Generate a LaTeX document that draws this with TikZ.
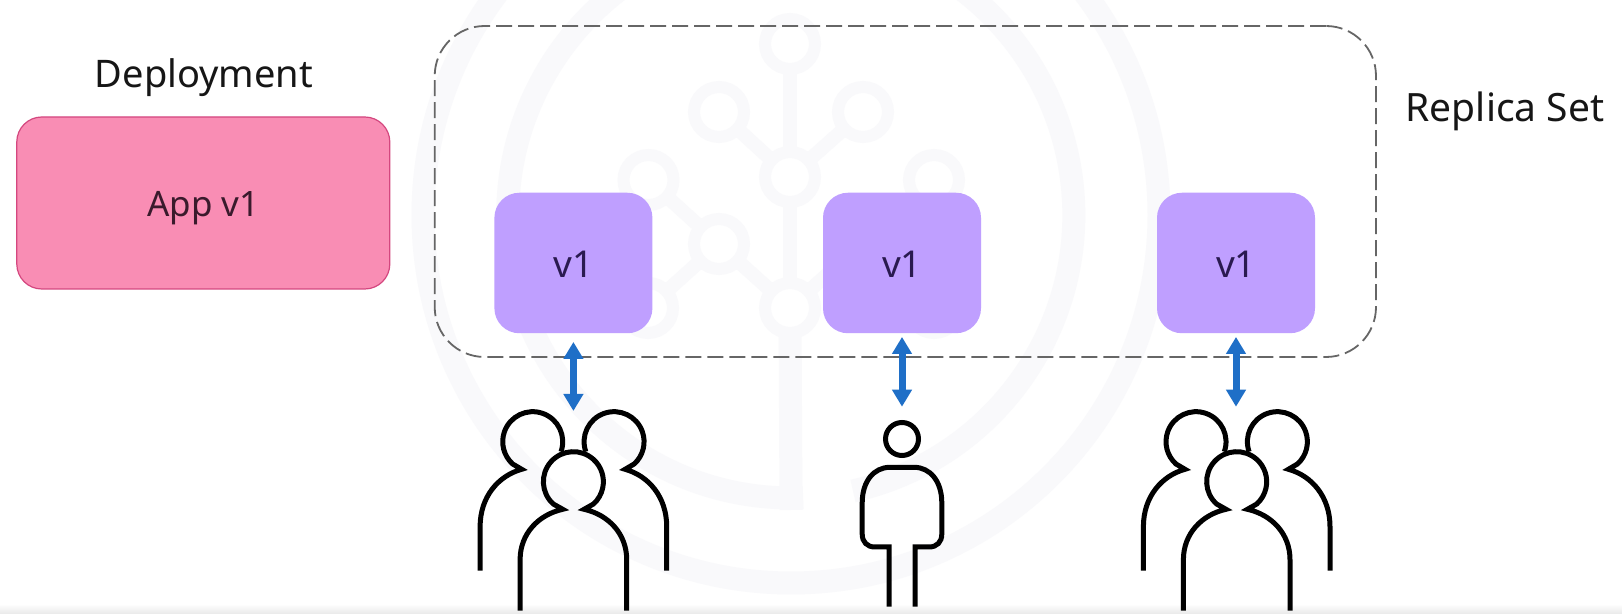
\documentclass[tikz,border=0pt]{standalone}
\usepackage{fontspec}
\setmainfont{Noto Sans}
\usetikzlibrary{arrows.meta}
\definecolor{wmgray}{HTML}{F9F9FB}
\definecolor{pinkfill}{HTML}{F98DB4}
\definecolor{pinkline}{HTML}{D4477F}
\definecolor{pinktext}{HTML}{3A1A2C}
\definecolor{purplefill}{HTML}{BF9FFF}
\definecolor{purpletext}{HTML}{2A1A50}
\definecolor{dashgray}{HTML}{666666}
\definecolor{arrowblue}{HTML}{1F6FC7}
\definecolor{inkblack}{HTML}{161616}
\tikzset{
  x=1pt,y=1pt,
  wmring/.style={draw=wmgray,line width=23pt},
  treenode/.style={circle,draw=wmgray,line width=12pt,minimum size=50pt,inner sep=0pt,outer sep=0pt},
  treelink/.style={draw=wmgray,line width=14pt},
  treestem/.style={draw=wmgray,line width=23pt},
  deploybox/.style={draw=pinkline,line width=1.2pt,fill=pinkfill,rounded corners=25pt,minimum width=373pt,minimum height=172pt,
    inner sep=0pt,outer sep=0pt,text=pinktext,font=\fontsize{35}{35}\selectfont,text height=27pt,text depth=0pt},
  podbox/.style={fill=purplefill,rounded corners=25pt,minimum width=158pt,minimum height=140.5pt,
    inner sep=0pt,outer sep=0pt,text=purpletext,font=\fontsize{37}{37}\selectfont,text height=29pt,text depth=0pt},
  replicabox/.style={draw=dashgray,line width=1.8pt,dash pattern=on 16pt off 6pt,rounded corners=50pt,
    minimum width=941.3pt,minimum height=331pt,inner sep=0pt,outer sep=0pt},
  titletext/.style={anchor=base,text=inkblack,inner sep=0pt},
  linkarrow/.style={draw=arrowblue,line width=7pt,{Triangle[width=19pt,length=17pt]}-{Triangle[width=19pt,length=17pt]}},
  personline/.style={draw=black,line width=5pt,line join=miter,line cap=butt},
  crowd/.pic={
    \draw[personline] (-12.4,30) arc[start angle=-19.5,end angle=228,radius=30] -- (-51.7,12.4)
      .. controls (-75,6) and (-93.3,-15) .. (-93.3,-45) -- (-93.3,-89);
    \draw[personline] (12.4,30) arc[start angle=199.5,end angle=-48,radius=30] -- (51.7,12.4)
      .. controls (75,6) and (93.3,-15) .. (93.3,-45) -- (93.3,-89);
    \draw[personline] (-53.3,-129) -- (-53.3,-78) .. controls (-53.3,-52) and (-35,-33) .. (-10.7,-27.6)
      -- (-20.1,-22.3) arc[start angle=228,end angle=-48,radius=30] -- (10.7,-27.6)
      .. controls (35,-33) and (53.3,-52) .. (53.3,-78) -- (53.3,-129);
  },
  loner/.pic={
    \draw[personline] (0,0) circle[radius=16.5];
    \draw[personline] (-13,-167.7) -- (-13,-108) -- (-27,-108) .. controls (-35,-108) and (-39.8,-103) .. (-39.8,-95)
      -- (-39.8,-64) .. controls (-39.8,-42) and (-28,-28.3) .. (-12,-28.3) -- (12,-28.3)
      .. controls (28,-28.3) and (39.8,-42) .. (39.8,-64) -- (39.8,-95)
      .. controls (39.8,-103) and (35,-108) .. (27,-108) -- (13,-108) -- (13,-167.7);
  }
}
\begin{document}
\begin{tikzpicture}
\useasboundingbox (0,0) rectangle (1622,613);
\fill[white] (0,0) rectangle (1622,613);
\begin{scope}
  \clip (0,0) rectangle (1622,613);
  % faint watermark
  \draw[wmring] (791,398) circle[radius=368];
  \draw[wmring] (853,122) arc[start angle=-77.3,end angle=272.5,radius=283];
  \node[treenode] (t1) at (790,569) {};
  \node[treenode] (t2) at (719,501) {};
  \node[treenode] (t3) at (863,501) {};
  \node[treenode] (t4) at (790,436) {};
  \node[treenode] (t5) at (648.5,433) {};
  \node[treenode] (t6) at (934,433) {};
  \node[treenode] (t7) at (719,369) {};
  \node[treenode] (t8) at (861,369) {};
  \node[treenode] (t9) at (790,305) {};
  \node[treenode] (t10) at (648,305) {};
  \node[treenode] (t11) at (934,305) {};
  \coordinate (stemend) at (791,103);
  \draw[treelink] (t1) -- (t4);
  \draw[treelink] (t2) -- (t4);
  \draw[treelink] (t3) -- (t4);
  \draw[treelink] (t4) -- (t9);
  \draw[treelink] (t5) -- (t7);
  \draw[treelink] (t10) -- (t7);
  \draw[treelink] (t7) -- (t9);
  \draw[treelink] (t6) -- (t8);
  \draw[treelink] (t11) -- (t8);
  \draw[treelink] (t8) -- (t9);
  \draw[treestem] (t9) -- (stemend);
  % bottom edge tint
  \shade[top color=white,bottom color=black!8] (0,0) rectangle (1622,9);
\end{scope}

\node[replicabox] (replica) at (905.35,421.5) {};
\node[deploybox] (deploy) at (203.3,410) {App v1};
\node[titletext,font=\fontsize{38}{38}\selectfont] (deploytitle) at (204,525) {Deployment};
\node[titletext,font=\fontsize{39}{39}\selectfont] (replicatitle) at (1505,491) {Replica Set};

\node[podbox] (podA) at (573.4,350) {v1};
\node[podbox] (podB) at (902,350) {v1};
\node[podbox] (podC) at (1236,350) {v1};

\pic (crowdA) at (573.4,131.3) {crowd};
\pic (lonerB) at (902,174) {loner};
\pic (crowdC) at (1236.7,131.3) {crowd};

\coordinate (crowdAtop) at (573.4,202);
\coordinate (lonerBtop) at (902,192.5);
\coordinate (crowdCtop) at (1236,202);

\draw[linkarrow,shorten <=8.7pt] (podA.south) -- (crowdAtop);
\draw[linkarrow,shorten <=3.7pt,shorten >=13.8pt] (podB.south) -- (lonerBtop);
\draw[linkarrow,shorten <=3.7pt,shorten >=4.3pt] (podC.south) -- (crowdCtop);
\end{tikzpicture}
\end{document}
